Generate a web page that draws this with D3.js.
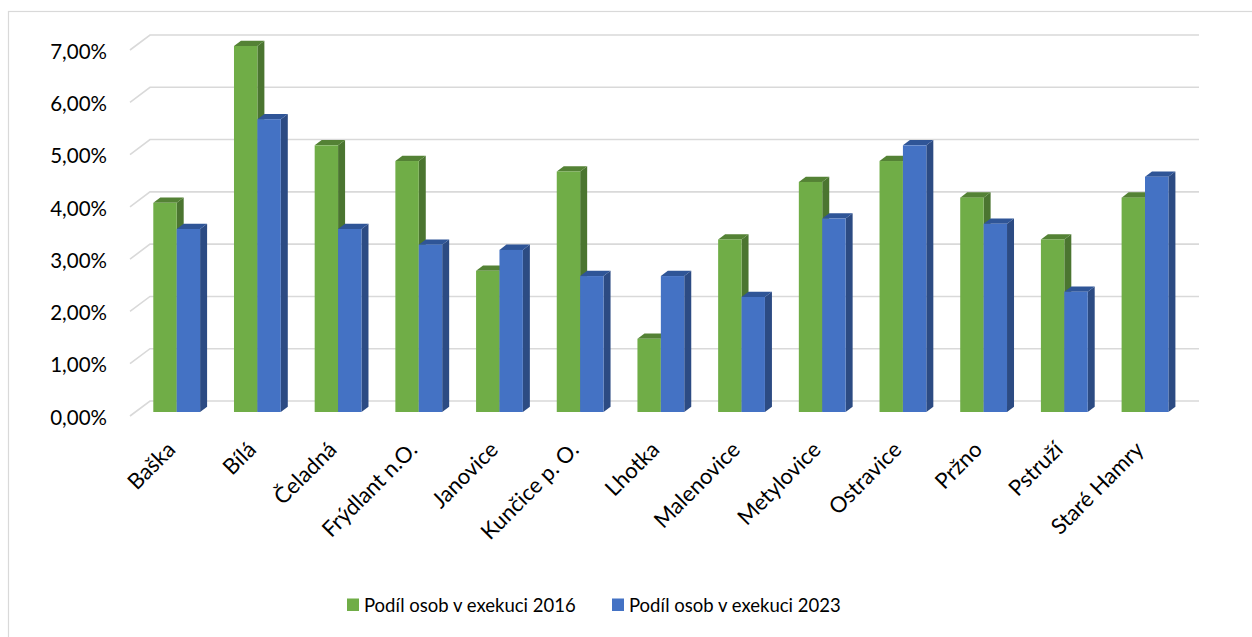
<!DOCTYPE html>
<html>
<head>
<meta charset="utf-8">
<script src="https://cdn.jsdelivr.net/npm/d3@7"></script>
<style>
  html, body { margin: 0; padding: 0; background: #fff; }
  svg { display: block; font-family: Lato, "Noto Sans", sans-serif; }
</style>
</head>
<body>
<svg id="chart" width="1252" height="637"></svg>
<script>
const categories = ["Baška", "Bílá", "Čeladná", "Frýdlant n.O.", "Janovice", "Kunčice p. O.", "Lhotka", "Malenovice", "Metylovice", "Ostravice", "Pržno", "Pstruží", "Staré Hamry"];
const values2016 = [4.0, 7.0, 5.1, 4.8, 2.7, 4.6, 1.4, 3.3, 4.4, 4.8, 4.1, 3.3, 4.1];
const values2023 = [3.5, 5.6, 3.5, 3.2, 3.1, 2.6, 2.6, 2.2, 3.7, 5.1, 3.6, 2.3, 4.5];
const seriesNames = ["Podíl osob v exekuci 2016", "Podíl osob v exekuci 2023"];
const yTicks = [0, 1, 2, 3, 4, 5, 6, 7];
const yTickLabels = ["0,00%", "1,00%", "2,00%", "3,00%", "4,00%", "5,00%", "6,00%", "7,00%"];

const colors = [
  { front: "#70AD47", side: "#4B7530", top: "#548235" },
  { front: "#4472C4", side: "#2C4B83", top: "#2F5597" }
];

const svg = d3.select("#chart");

// frame
svg.append("rect").attr("x", 8.5).attr("y", 11.5).attr("width", 1400).attr("height", 800)
  .attr("fill", "none").attr("stroke", "#D9D9D9").attr("stroke-width", 1.2);

const x0 = d3.scaleBand().domain(categories).range([136.35, 1185.35]).paddingInner(0.42).paddingOuter(0.21);
const x1 = d3.scaleBand().domain(seriesNames).range([0, x0.bandwidth()]);
const y = d3.scaleLinear().domain([0, 7]).range([412, 46]);
const backShift = 11;
const wallLeft = 150, wallRight = 1199, diagDx = 20, diagDy = 15;
const depthDx = 7, depthDy = -5.3;

// gridlines on back wall
const grid = svg.append("g");
yTicks.forEach(t => {
  const yb = y(t) - backShift;
  grid.append("path")
    .attr("d", `M${wallLeft - diagDx},${yb + diagDy} L${wallLeft},${yb} L${wallRight},${yb}`)
    .attr("fill", "none").attr("stroke", "#D9D9D9").attr("stroke-width", 1.6);
});

// y labels
svg.append("g").selectAll("text").data(yTicks).join("text")
  .attr("x", 107).attr("y", t => y(t) - backShift + 16.5).attr("dy", "0.35em")
  .attr("text-anchor", "end").attr("font-size", 20.5).attr("fill", "#000")
  .text((t, i) => yTickLabels[i]);

// bars
const data = categories.map((c, i) => ({ cat: c, vals: [values2016[i], values2023[i]] }));
const bars = svg.append("g");
data.forEach(d => {
  d.vals.forEach((v, s) => {
    const bx = x0(d.cat) + x1(seriesNames[s]);
    const bw = x1.bandwidth();
    const top = y(v), bot = y(0);
    const g = bars.append("g");
    g.append("path")
      .attr("d", `M${bx + bw},${top} L${bx + bw + depthDx},${top + depthDy} L${bx + bw + depthDx},${bot + depthDy} L${bx + bw},${bot} Z`)
      .attr("fill", colors[s].side);
    g.append("path")
      .attr("d", `M${bx},${top} L${bx + depthDx},${top + depthDy} L${bx + bw + depthDx},${top + depthDy} L${bx + bw},${top} Z`)
      .attr("fill", colors[s].top);
    g.append("rect").attr("x", bx).attr("y", top).attr("width", bw).attr("height", bot - top)
      .attr("fill", colors[s].front);
  });
});

// x labels
svg.append("g").selectAll("text").data(categories).join("text")
  .attr("transform", c => `translate(${x0(c) + x0.bandwidth() / 2},${451}) rotate(-45)`)
  .attr("text-anchor", "end").attr("font-size", 22).attr("fill", "#000")
  .text(c => c);

// legend
const legendItems = [{ x: 347, name: seriesNames[0], c: colors[0].front }, { x: 612, name: seriesNames[1], c: colors[1].front }];
const lg = svg.append("g");
legendItems.forEach(it => {
  lg.append("rect").attr("x", it.x).attr("y", 598.5).attr("width", 12).attr("height", 12.5).attr("fill", it.c);
  lg.append("text").attr("x", it.x + 17).attr("y", 612).attr("font-size", 18.5).attr("fill", "#000").text(it.name);
});
</script>
</body>
</html>
